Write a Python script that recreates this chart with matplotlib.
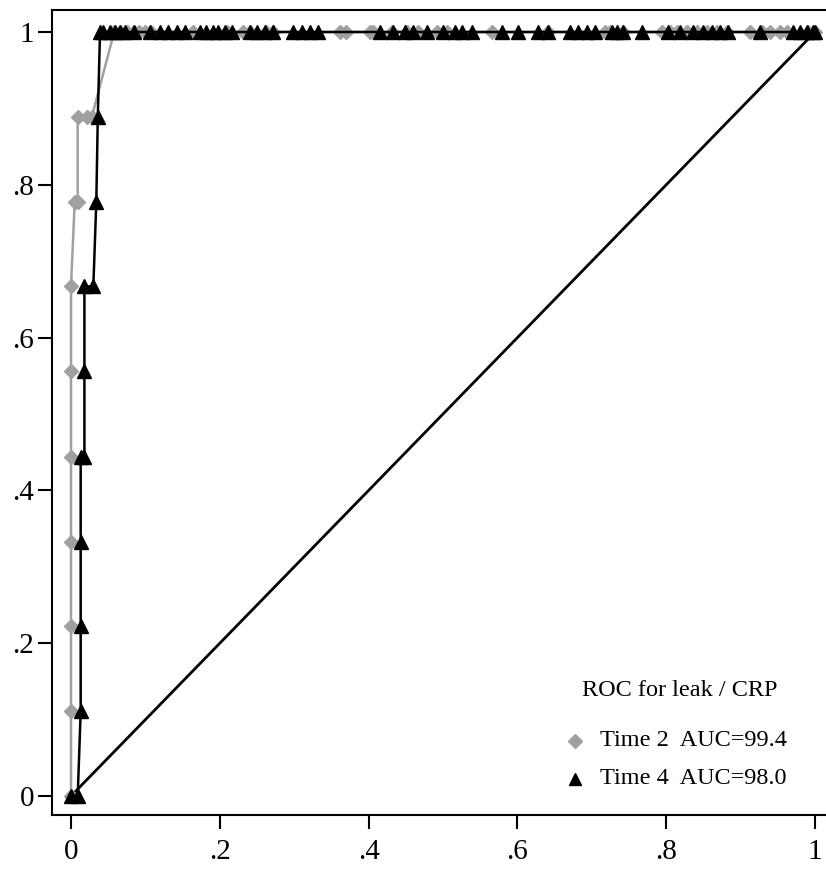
import matplotlib
matplotlib.use("Agg")
import matplotlib.pyplot as plt
from matplotlib.lines import Line2D
import numpy as np

# ROC points (false positive rate, true positive rate)
# Time 2 (grey diamonds)
t2_fpr_low = [0.0, 0.0, 0.0, 0.0, 0.0, 0.0, 0.0, 0.005, 0.009, 0.009, 0.022, 0.028]
t2_tpr_low = [0.0, 0.111, 0.222, 0.333, 0.444, 0.556, 0.667, 0.778, 0.778, 0.889, 0.889, 0.889]
t2_fpr_top = [0.058, 0.066, 0.075, 0.084, 0.092, 0.1, 0.108, 0.164, 0.209, 0.231, 0.24, 0.262,
              0.271, 0.361, 0.37, 0.402, 0.406, 0.431, 0.452, 0.466, 0.492, 0.505, 0.566,
              0.641, 0.718, 0.724, 0.742, 0.794, 0.805, 0.815, 0.828, 0.841, 0.855, 0.868,
              0.882, 0.913, 0.929, 0.94, 0.953, 0.962, 0.99, 1.0]

# Time 4 (black triangles)
t4_fpr_low = [0.0, 0.009, 0.013, 0.013, 0.013, 0.013, 0.018, 0.018, 0.018, 0.03, 0.034, 0.036]
t4_tpr_low = [0.0, 0.0, 0.111, 0.222, 0.333, 0.444, 0.444, 0.556, 0.667, 0.667, 0.778, 0.889]
t4_fpr_top = [0.039, 0.043, 0.052, 0.059, 0.066, 0.073, 0.084, 0.106, 0.12, 0.131, 0.142,
              0.153, 0.173, 0.182, 0.191, 0.198, 0.207, 0.216, 0.24, 0.25, 0.261, 0.272,
              0.299, 0.31, 0.321, 0.332, 0.415, 0.433, 0.449, 0.46, 0.478, 0.5, 0.516,
              0.526, 0.539, 0.579, 0.601, 0.628, 0.641, 0.671, 0.681, 0.694, 0.704, 0.727,
              0.734, 0.742, 0.767, 0.802, 0.819, 0.836, 0.849, 0.862, 0.872, 0.883, 0.926,
              0.97, 0.98, 0.989, 0.997, 1.0]

ticks = [0, 0.2, 0.4, 0.6, 0.8, 1]
tick_labels = ["0", ".2", ".4", ".6", ".8", "1"]
legend_title = "ROC for leak / CRP"
legend_labels = ["Time 2  AUC=99.4", "Time 4  AUC=98.0"]

plt.rcParams["font.family"] = ["Liberation Serif", "DejaVu Serif"]

GREY = "#a0a0a0"

fig = plt.figure(figsize=(8.26, 8.69), dpi=100)
ax = fig.add_axes([0.063, 0.0621, 0.9467, 0.9264])

t2_x = t2_fpr_low + t2_fpr_top
t2_y = t2_tpr_low + [1.0] * len(t2_fpr_top)
t4_x = t4_fpr_low + t4_fpr_top
t4_y = t4_tpr_low + [1.0] * len(t4_fpr_top)

ax.plot([0, 1], [0, 1], color="black", linewidth=2.0, zorder=2)
ax.plot(t2_x, t2_y, color=GREY, linewidth=1.8, marker="D", markersize=7.5,
        markerfacecolor=GREY, markeredgecolor=GREY, zorder=3)
ax.plot(t4_x, t4_y, color="black", linewidth=1.8, marker="^", markersize=9.5,
        markerfacecolor="black", markeredgecolor="black", zorder=4)

ax.set_xlim(-0.0255, 1.0255)
ax.set_ylim(-0.0249, 1.0288)
ax.set_xticks(ticks)
ax.set_xticklabels(tick_labels)
ax.set_yticks(ticks)
ax.set_yticklabels(tick_labels)
ax.tick_params(axis="both", direction="out", length=10, width=1.5, labelsize=21)
ax.tick_params(axis="x", pad=7)
ax.tick_params(axis="y", pad=3)
for s in ax.spines.values():
    s.set_linewidth(1.5)

# legend drawn by hand (Stata style, no frame)
fig.text(582 / 826, 1 - 690 / 869, legend_title, fontsize=17.5, va="center", ha="left")
markers = [("D", GREY, 7), ("^", "black", 8.5)]
for i, (lab, (m, c, ms)) in enumerate(zip(legend_labels, markers)):
    yy = 1 - (741 + 38 * i) / 869
    fig.add_artist(Line2D([575 / 826], [yy], marker=m, color=c, markersize=ms,
                          linestyle="none", transform=fig.transFigure))
    fig.text(600 / 826, yy, lab, fontsize=17.5, va="center", ha="left")

fig.savefig("out.png", dpi=100)
